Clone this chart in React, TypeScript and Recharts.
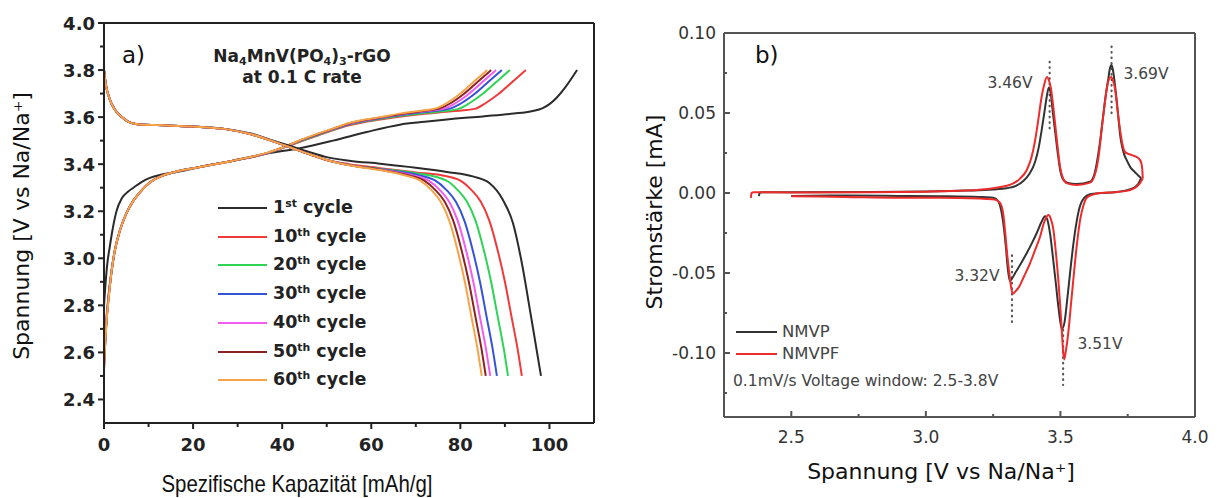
import React from 'react';
import { LineChart, Line, XAxis, YAxis, ReferenceLine } from 'recharts';

type P = [number, number];

// ---------------- Panel a: galvanostatic charge / discharge ----------------
const cycleNumbers = ['1', '10', '20', '30', '40', '50', '60'];
const cycleSuffixes = ['st', 'th', 'th', 'th', 'th', 'th', 'th'];
const cycleColors = ['#2b2b2b', '#f03a3a', '#2ed456', '#3553d6', '#f45cef', '#8c2323', '#f6a447'];

const chargeCycle1: P[] = [[0, 2.8], [0.3, 2.88], [0.7, 2.97], [1.3, 3.05], [2, 3.13], [2.8, 3.2], [4, 3.255], [5.5, 3.285], [6.6, 3.3], [8.5, 3.325], [10.3, 3.342], [13, 3.356], [16.3, 3.367], [21.5, 3.388], [29, 3.415], [36.5, 3.445], [44, 3.468], [51.4, 3.5], [59, 3.537], [66.4, 3.568], [72, 3.58], [77, 3.59], [85, 3.603], [92, 3.615], [96, 3.625], [98.5, 3.638], [100, 3.655], [101.5, 3.68], [103.5, 3.725], [106.2, 3.8]];
const chargeCycle10: P[] = [[0, 2.56], [0.2, 2.63], [0.5, 2.73], [1, 2.84], [1.6, 2.935], [2.4, 3.03], [3.6, 3.12], [5, 3.19], [6.6, 3.245], [8.5, 3.29], [10.3, 3.322], [13, 3.35], [15.5, 3.365], [21.5, 3.388], [29, 3.415], [36.5, 3.445], [40, 3.468], [44, 3.495], [48, 3.522], [51.5, 3.545], [55, 3.565], [62, 3.59], [70, 3.61], [78, 3.625], [83.2, 3.635], [85.7, 3.66], [88.7, 3.7], [91.7, 3.75], [94.7, 3.8]];
const chargeCycle20: P[] = [[0, 2.55], [0.2, 2.625], [0.5, 2.725], [1, 2.835], [1.6, 2.932], [2.4, 3.03], [3.6, 3.12], [5, 3.19], [6.6, 3.245], [8.5, 3.29], [10.3, 3.322], [13, 3.35], [15.5, 3.365], [21.5, 3.388], [29, 3.415], [36.5, 3.445], [40, 3.469], [44, 3.497], [48, 3.524], [51.5, 3.547], [55, 3.568], [62, 3.593], [70, 3.613], [76, 3.625], [79.6, 3.635], [82.1, 3.66], [85.1, 3.7], [88.1, 3.75], [91.1, 3.8]];
const chargeCycle30: P[] = [[0, 2.54], [0.2, 2.62], [0.5, 2.72], [1, 2.83], [1.6, 2.93], [2.4, 3.03], [3.6, 3.12], [5, 3.19], [6.6, 3.245], [8.5, 3.29], [10.3, 3.322], [13, 3.35], [15.5, 3.365], [21.5, 3.388], [29, 3.415], [36.5, 3.446], [40, 3.469], [44, 3.499], [48, 3.526], [51.5, 3.549], [55, 3.57], [62, 3.595], [70, 3.617], [74.5, 3.627], [77.8, 3.637], [80.3, 3.66], [83.3, 3.7], [86.3, 3.75], [89.3, 3.8]];
const chargeCycle40: P[] = [[0, 2.54], [0.2, 2.62], [0.5, 2.72], [1, 2.83], [1.6, 2.93], [2.4, 3.03], [3.6, 3.12], [5, 3.19], [6.6, 3.245], [8.5, 3.29], [10.3, 3.322], [13, 3.35], [15.5, 3.365], [21.5, 3.388], [29, 3.415], [36.5, 3.446], [40, 3.47], [44, 3.5], [48, 3.527], [51.5, 3.55], [55, 3.572], [62, 3.597], [69, 3.618], [73.5, 3.628], [76.5, 3.637], [79, 3.66], [82, 3.7], [85, 3.75], [88, 3.8]];
const chargeCycle50: P[] = [[0, 2.53], [0.2, 2.615], [0.5, 2.715], [1, 2.826], [1.6, 2.93], [2.4, 3.03], [3.6, 3.12], [5, 3.19], [6.6, 3.245], [8.5, 3.29], [10.3, 3.322], [13, 3.35], [15.5, 3.365], [21.5, 3.388], [29, 3.415], [36.5, 3.447], [40, 3.47], [44, 3.501], [48, 3.528], [51.5, 3.551], [55, 3.573], [62, 3.598], [68, 3.617], [72.5, 3.628], [75.4, 3.637], [77.9, 3.66], [80.9, 3.7], [83.9, 3.75], [86.9, 3.8]];
const chargeCycle60: P[] = [[0, 2.52], [0.2, 2.61], [0.5, 2.71], [1, 2.82], [1.6, 2.93], [2.4, 3.03], [3.6, 3.12], [5, 3.19], [6.6, 3.245], [8.5, 3.29], [10.3, 3.322], [13, 3.35], [15.5, 3.365], [21.5, 3.388], [29, 3.415], [36.5, 3.448], [40, 3.47], [44, 3.502], [48, 3.53], [51.5, 3.552], [55, 3.575], [62, 3.6], [67, 3.617], [71.5, 3.628], [74.5, 3.637], [77, 3.66], [80, 3.7], [83, 3.75], [86, 3.8]];

const dischargeCycle1: P[] = [[0, 3.8], [0.4, 3.74], [1.2, 3.68], [2.5, 3.63], [4, 3.6], [5.5, 3.58], [7.5, 3.57], [12, 3.566], [20, 3.56], [27, 3.55], [33, 3.53], [38, 3.5], [42, 3.476], [46, 3.452], [50, 3.43], [55, 3.415], [62, 3.402], [70, 3.385], [77, 3.367], [83, 3.347], [86.5, 3.32], [89.5, 3.25], [91.8, 3.15], [93.8, 2.98], [95.8, 2.76], [98.1, 2.5]];
const dischargeCycle10: P[] = [[0, 3.8], [0.4, 3.74], [1.2, 3.68], [2.5, 3.63], [4, 3.6], [5.5, 3.58], [7.5, 3.57], [12, 3.566], [20, 3.56], [27, 3.55], [33, 3.527], [38, 3.497], [42, 3.47], [46, 3.443], [50, 3.418], [55, 3.4], [62, 3.383], [70, 3.365], [76, 3.352], [80, 3.33], [82.5, 3.29], [84.6, 3.24], [86.5, 3.16], [88.3, 3.04], [90, 2.9], [91.5, 2.75], [92.8, 2.62], [93.8, 2.5]];
const dischargeCycle20: P[] = [[0, 3.8], [0.4, 3.74], [1.2, 3.68], [2.5, 3.63], [4, 3.6], [5.5, 3.58], [7.5, 3.57], [12, 3.566], [20, 3.56], [27, 3.55], [33, 3.527], [38, 3.497], [42, 3.47], [46, 3.443], [50, 3.418], [55, 3.397], [62, 3.38], [70, 3.362], [76.9, 3.33], [79.4, 3.29], [81.5, 3.24], [83.4, 3.16], [85.2, 3.04], [86.9, 2.9], [88.4, 2.75], [89.7, 2.62], [90.7, 2.5]];
const dischargeCycle30: P[] = [[0, 3.8], [0.4, 3.74], [1.2, 3.68], [2.5, 3.63], [4, 3.6], [5.5, 3.58], [7.5, 3.57], [12, 3.566], [20, 3.56], [27, 3.55], [33, 3.527], [38, 3.497], [42, 3.47], [46, 3.443], [50, 3.418], [55, 3.397], [62, 3.378], [69.5, 3.358], [74.4, 3.33], [76.9, 3.29], [79, 3.24], [80.9, 3.16], [82.7, 3.04], [84.4, 2.9], [85.9, 2.75], [87.2, 2.62], [88.2, 2.5]];
const dischargeCycle40: P[] = [[0, 3.8], [0.4, 3.74], [1.2, 3.68], [2.5, 3.63], [4, 3.6], [5.5, 3.58], [7.5, 3.57], [12, 3.566], [20, 3.56], [27, 3.55], [33, 3.527], [38, 3.497], [42, 3.47], [46, 3.443], [50, 3.418], [55, 3.396], [62, 3.377], [68.5, 3.356], [72.9, 3.33], [75.4, 3.29], [77.5, 3.24], [79.4, 3.16], [81.2, 3.04], [82.9, 2.9], [84.4, 2.75], [85.7, 2.62], [86.7, 2.5]];
const dischargeCycle50: P[] = [[0, 3.8], [0.4, 3.74], [1.2, 3.68], [2.5, 3.63], [4, 3.6], [5.5, 3.58], [7.5, 3.57], [12, 3.566], [20, 3.56], [27, 3.55], [33, 3.527], [38, 3.497], [42, 3.47], [46, 3.443], [50, 3.418], [55, 3.396], [62, 3.376], [67.9, 3.355], [71.9, 3.33], [74.4, 3.29], [76.5, 3.24], [78.4, 3.16], [80.2, 3.04], [81.9, 2.9], [83.4, 2.75], [84.7, 2.62], [85.7, 2.5]];
const dischargeCycle60: P[] = [[0, 3.8], [0.4, 3.74], [1.2, 3.68], [2.5, 3.63], [4, 3.6], [5.5, 3.58], [7.5, 3.57], [12, 3.566], [20, 3.56], [27, 3.55], [33, 3.527], [38, 3.497], [42, 3.47], [46, 3.443], [50, 3.418], [55, 3.395], [62, 3.375], [67, 3.355], [71, 3.33], [73.5, 3.29], [75.6, 3.24], [77.5, 3.16], [79.3, 3.04], [81, 2.9], [82.5, 2.75], [83.8, 2.62], [84.8, 2.5]];

const chargeCurves = [chargeCycle1, chargeCycle10, chargeCycle20, chargeCycle30, chargeCycle40, chargeCycle50, chargeCycle60];
const dischargeCurves = [dischargeCycle1, dischargeCycle10, dischargeCycle20, dischargeCycle30, dischargeCycle40, dischargeCycle50, dischargeCycle60];

const capacityMajorTicks = [0, 20, 40, 60, 80, 100];
const capacityMinorTicks = [10, 30, 50, 70, 90];
const voltageMajorTicks = [2.4, 2.6, 2.8, 3.0, 3.2, 3.4, 3.6, 3.8, 4.0];
const voltageMinorTicks = [2.5, 2.7, 2.9, 3.1, 3.3, 3.5, 3.7, 3.9];

// ---------------- Panel b: cyclic voltammetry ----------------
const cvNames = ['NMVP', 'NMVPF'];
const cvColors = ['#333333', '#ee2b2b'];

const nmvpAnodic: P[] = [[2.38, -0.002], [2.382, 0.0], [2.39, 0.0005], [2.5, 0.0004], [2.8, 0.0006], [3.0, 0.0009], [3.15, 0.0015], [3.25, 0.0022], [3.3, 0.003], [3.335, 0.0045], [3.362, 0.0075], [3.385, 0.012], [3.406, 0.0195], [3.42, 0.029], [3.43, 0.039], [3.44, 0.05], [3.449, 0.06], [3.457, 0.066], [3.465, 0.061], [3.472, 0.05], [3.48, 0.039], [3.49, 0.025], [3.499, 0.0144], [3.51, 0.0085], [3.525, 0.0065], [3.56, 0.0056], [3.61, 0.007], [3.625, 0.011], [3.635, 0.0187], [3.648, 0.033], [3.66, 0.05], [3.67, 0.063], [3.678, 0.0715], [3.684, 0.078], [3.69, 0.08], [3.696, 0.076], [3.703, 0.067], [3.709, 0.058], [3.716, 0.046], [3.722, 0.036], [3.728, 0.03], [3.737, 0.024], [3.746, 0.0206], [3.76, 0.016], [3.777, 0.013], [3.79, 0.0108], [3.8, 0.0094]];
const nmvpCathodic: P[] = [[2.5, -0.0018], [2.7, -0.0016], [2.9, -0.0018], [3.05, -0.002], [3.2, -0.0025], [3.25, -0.003], [3.268, -0.005], [3.28, -0.011], [3.29, -0.022], [3.298, -0.035], [3.305, -0.048], [3.312, -0.055], [3.322, -0.053], [3.332, -0.05], [3.35, -0.045], [3.375, -0.0375], [3.395, -0.031], [3.412, -0.025], [3.43, -0.018], [3.443, -0.0145], [3.452, -0.017], [3.462, -0.026], [3.472, -0.04], [3.482, -0.055], [3.493, -0.072], [3.505, -0.085], [3.515, -0.081], [3.525, -0.067], [3.537, -0.048], [3.548, -0.032], [3.56, -0.018], [3.573, -0.008], [3.588, -0.003], [3.61, -0.0008], [3.65, 0.0], [3.7, 0.0005], [3.74, 0.0015], [3.77, 0.003], [3.79, 0.006], [3.8, 0.0094]];
const nmvpfAnodic: P[] = [[2.35, -0.003], [2.352, 0.0], [2.36, 0.0005], [2.5, 0.0003], [2.8, 0.0005], [3.0, 0.0008], [3.15, 0.0015], [3.25, 0.003], [3.3, 0.0045], [3.325, 0.006], [3.35, 0.009], [3.375, 0.0144], [3.392, 0.022], [3.406, 0.033], [3.418, 0.046], [3.43, 0.06], [3.44, 0.068], [3.45, 0.0725], [3.458, 0.07], [3.465, 0.065], [3.472, 0.056], [3.48, 0.0437], [3.49, 0.028], [3.499, 0.016], [3.51, 0.009], [3.525, 0.006], [3.56, 0.005], [3.61, 0.0065], [3.625, 0.01], [3.635, 0.016], [3.645, 0.027], [3.654, 0.041], [3.664, 0.055], [3.672, 0.065], [3.68, 0.071], [3.688, 0.0725], [3.696, 0.07], [3.703, 0.065], [3.712, 0.052], [3.722, 0.039], [3.731, 0.03], [3.74, 0.0256], [3.752, 0.0245], [3.765, 0.0237], [3.79, 0.0218], [3.8, 0.019], [3.804, 0.015], [3.806, 0.009]];
const nmvpfCathodic: P[] = [[2.5, -0.002], [2.7, -0.0025], [2.9, -0.003], [3.05, -0.003], [3.2, -0.0035], [3.255, -0.004], [3.275, -0.006], [3.287, -0.0125], [3.295, -0.025], [3.302, -0.038], [3.31, -0.05], [3.316, -0.058], [3.323, -0.063], [3.333, -0.0615], [3.345, -0.059], [3.365, -0.052], [3.387, -0.044], [3.405, -0.036], [3.424, -0.0275], [3.44, -0.018], [3.455, -0.0138], [3.464, -0.016], [3.474, -0.023], [3.483, -0.037], [3.492, -0.054], [3.499, -0.07], [3.505, -0.086], [3.51, -0.099], [3.514, -0.104], [3.52, -0.099], [3.53, -0.086], [3.54, -0.068], [3.548, -0.054], [3.56, -0.034], [3.573, -0.017], [3.585, -0.008], [3.598, -0.003], [3.62, -0.001], [3.65, 0.0], [3.7, 0.0005], [3.75, 0.0015], [3.775, 0.003], [3.795, 0.006], [3.806, 0.009]];

const cvCurves = [[nmvpAnodic, nmvpCathodic], [nmvpfAnodic, nmvpfCathodic]];

const peakVoltages = [3.46, 3.69, 3.32, 3.51];
const peakLabels = ['3.46V', '3.69V', '3.32V', '3.51V'];
const peakMarkerTop = [0.082, 0.0915, -0.039, -0.0856];
const peakMarkerBottom = [0.039, 0.0488, -0.081, -0.12];

const potentialMajorTicks = [2.5, 3.0, 3.5, 4.0];
const potentialMinorTicks = [2.75, 3.25, 3.75];
const currentMajorTicks = [-0.1, -0.05, 0, 0.05, 0.1];
const currentMinorTicks = [-0.125, -0.075, -0.025, 0.025, 0.075];

const toXY = (a: P[]) => a.map(([x, y]) => ({ x, y }));

type TickOpts = {
  orient: 'bottom' | 'left';
  majors: number[];
  fmt: (v: number) => string;
  dir: number; // 1 outward, -1 inward
  major: number;
  minor: number;
  stroke: string;
  strokeWidth: number;
  gap: number;
  font: string;
  size: number;
  weight: number | string;
  color: string;
};

function makeTick(o: TickOpts) {
  return (props: any) => {
    const { x, y, payload } = props;
    const v = payload.value as number;
    const isMajor = o.majors.some((m) => Math.abs(m - v) < 1e-9);
    const len = isMajor ? o.major : o.minor;
    if (o.orient === 'bottom') {
      return (
        <g>
          <line x1={x} x2={x} y1={y} y2={y + o.dir * len} stroke={o.stroke} strokeWidth={o.strokeWidth} />
          {isMajor && (
            <text x={x} y={y + o.gap} textAnchor="middle" dominantBaseline="central" fontFamily={o.font} fontSize={o.size} fontWeight={o.weight} fill={o.color}>
              {o.fmt(v)}
            </text>
          )}
        </g>
      );
    }
    return (
      <g>
        <line x1={x} x2={x - o.dir * len} y1={y} y2={y} stroke={o.stroke} strokeWidth={o.strokeWidth} />
        {isMajor && (
          <text x={x - o.gap} y={y} textAnchor="end" dominantBaseline="central" fontFamily={o.font} fontSize={o.size} fontWeight={o.weight} fill={o.color}>
            {o.fmt(v)}
          </text>
        )}
      </g>
    );
  };
}

const DV = '"DejaVu Sans", sans-serif';
const LS = '"Liberation Sans", Arial, sans-serif';

const abs = (left: number, top: number, extra: React.CSSProperties = {}): React.CSSProperties => ({
  position: 'absolute',
  left,
  top,
  whiteSpace: 'nowrap',
  lineHeight: 1,
  ...extra,
});

export default function App() {
  const tickA = {
    stroke: '#222',
    strokeWidth: 2,
    font: DV,
    size: 18,
    weight: 'bold',
    color: '#222',
  };
  const tickB = {
    stroke: '#555',
    strokeWidth: 2,
    font: DV,
    size: 17,
    weight: 'normal',
    color: '#333',
  };
  const sortNum = (a: number[]) => [...a].sort((p, q) => p - q);
  return (
    <div style={{ position: 'absolute', left: 0, top: 0, width: 1217, height: 498, background: '#fff', overflow: 'hidden', fontFamily: DV }}>
      {/* Panel a */}
      <div style={{ position: 'absolute', left: 0, top: 0 }}>
        <LineChart width={610} height={498} margin={{ top: 23, right: 16, bottom: 0, left: 0 }}>
          <XAxis
            type="number"
            dataKey="x"
            domain={[0, 110]}
            ticks={sortNum([...capacityMajorTicks, ...capacityMinorTicks])}
            interval={0}
            height={75}
            tickSize={0}
            tickMargin={0}
            tickLine={false}
            axisLine={{ stroke: '#222', strokeWidth: 2 }}
            tick={makeTick({ ...tickA, orient: 'bottom', majors: capacityMajorTicks, fmt: (v) => String(v), dir: 1, major: 6, minor: 4, gap: 21 })}
          />
          <YAxis
            type="number"
            domain={[2.3, 4.0]}
            ticks={sortNum([...voltageMajorTicks, ...voltageMinorTicks])}
            interval={0}
            width={104}
            tickSize={0}
            tickMargin={0}
            tickLine={false}
            axisLine={{ stroke: '#222', strokeWidth: 2 }}
            tick={makeTick({ ...tickA, orient: 'left', majors: voltageMajorTicks, fmt: (v) => v.toFixed(1), dir: 1, major: 6, minor: 4, gap: 9 })}
          />
          <ReferenceLine y={4.0} stroke="#222" strokeWidth={2} />
          <ReferenceLine x={110} stroke="#222" strokeWidth={2} />
          {chargeCurves.map((c, i) => (
            <Line key={'c' + i} data={toXY(c)} dataKey="y" type="monotone" dot={false} activeDot={false} stroke={cycleColors[i]} strokeWidth={2} isAnimationActive={false} />
          ))}
          {dischargeCurves.map((c, i) => (
            <Line key={'d' + i} data={toXY(c)} dataKey="y" type="monotone" dot={false} activeDot={false} stroke={cycleColors[i]} strokeWidth={2} isAnimationActive={false} />
          ))}
        </LineChart>
      </div>

      {/* Panel b */}
      <div style={{ position: 'absolute', left: 620, top: 0 }}>
        <LineChart width={597} height={498} margin={{ top: 33, right: 22, bottom: 0, left: 0 }}>
          <XAxis
            type="number"
            dataKey="x"
            domain={[2.25, 4.0]}
            ticks={sortNum([...potentialMajorTicks, ...potentialMinorTicks])}
            interval={0}
            height={81}
            tickSize={0}
            tickMargin={0}
            tickLine={false}
            axisLine={{ stroke: '#555', strokeWidth: 2 }}
            tick={makeTick({ ...tickB, orient: 'bottom', majors: potentialMajorTicks, fmt: (v) => v.toFixed(1), dir: -1, major: 6, minor: 3, gap: 20 })}
          />
          <YAxis
            type="number"
            domain={[-0.14, 0.1]}
            ticks={sortNum([...currentMajorTicks, ...currentMinorTicks])}
            interval={0}
            width={104}
            tickSize={0}
            tickMargin={0}
            tickLine={false}
            axisLine={{ stroke: '#555', strokeWidth: 2 }}
            tick={makeTick({ ...tickB, orient: 'left', majors: currentMajorTicks, fmt: (v) => v.toFixed(2), dir: -1, major: 6, minor: 3, gap: 8 })}
          />
          <ReferenceLine y={0.1} stroke="#555" strokeWidth={2} />
          <ReferenceLine x={4.0} stroke="#555" strokeWidth={2} />
          {peakVoltages.map((v, i) => (
            <ReferenceLine
              key={'pk' + i}
              segment={[{ x: v, y: peakMarkerTop[i] }, { x: v, y: peakMarkerBottom[i] }]}
              stroke="#555"
              strokeWidth={2.2}
              strokeDasharray="0.5 5"
              strokeLinecap="round"
            />
          ))}
          {cvCurves.map((branches, i) =>
            branches.map((b, j) => (
              <Line key={'cv' + i + '-' + j} data={toXY(b)} dataKey="y" type="monotone" dot={false} activeDot={false} stroke={cvColors[i]} strokeWidth={2} isAnimationActive={false} />
            ))
          )}
        </LineChart>
      </div>

      {/* Panel a texts */}
      <div style={abs(122, 55, { transform: 'translateY(-50%)', fontSize: 23, color: '#111' })}>a)</div>
      <div style={abs(302, 56, { transform: 'translate(-50%,-50%)', fontSize: 17, fontWeight: 'bold', color: '#222' })}>
        Na<sub style={{ fontSize: '0.65em', verticalAlign: 'baseline', position: 'relative', top: '0.3em' }}>4</sub>MnV(PO
        <sub style={{ fontSize: '0.65em', verticalAlign: 'baseline', position: 'relative', top: '0.3em' }}>4</sub>)
        <sub style={{ fontSize: '0.65em', verticalAlign: 'baseline', position: 'relative', top: '0.3em' }}>3</sub>-rGO
      </div>
      <div style={abs(302, 77, { transform: 'translate(-50%,-50%)', fontSize: 17, fontWeight: 'bold', color: '#222' })}>at 0.1 C rate</div>
      {cycleNumbers.map((n, i) => (
        <React.Fragment key={'lg' + i}>
          <div style={abs(218, 208 + i * 28.7, { width: 49, height: 0, borderTop: `2.5px solid ${cycleColors[i]}`, transform: 'translateY(-1px)' })} />
          <div style={abs(273, 208 + i * 28.7, { transform: 'translateY(-50%)', fontSize: 17.5, fontWeight: 'bold', color: '#222' })}>
            {n}
            <span style={{ fontSize: '0.62em', position: 'relative', top: '-0.55em' }}>{cycleSuffixes[i]}</span> cycle
          </div>
        </React.Fragment>
      ))}
      <div style={abs(22, 226, { transform: 'translate(-50%,-50%) rotate(-90deg)', fontSize: 22, color: '#111' })}>Spannung [V vs Na/Na⁺]</div>
      <div style={abs(297, 484, { transform: 'translate(-50%,-50%) scaleX(0.85)', fontSize: 24, color: '#111', fontFamily: LS })}>Spezifische Kapazität [mAh/g]</div>

      {/* Panel b texts */}
      <div style={abs(755, 55, { transform: 'translateY(-50%)', fontSize: 23, color: '#111' })}>b)</div>
      <div style={abs(1010, 84, { transform: 'translate(-50%,-50%)', fontSize: 15.5, color: '#444' })}>{peakLabels[0]}</div>
      <div style={abs(1146, 75, { transform: 'translate(-50%,-50%)', fontSize: 15.5, color: '#444' })}>{peakLabels[1]}</div>
      <div style={abs(977, 277, { transform: 'translate(-50%,-50%)', fontSize: 15.5, color: '#444' })}>{peakLabels[2]}</div>
      <div style={abs(1100, 345, { transform: 'translate(-50%,-50%)', fontSize: 15.5, color: '#444' })}>{peakLabels[3]}</div>
      {cvNames.map((n, i) => (
        <React.Fragment key={'cvl' + i}>
          <div style={abs(736, 332 + i * 22, { width: 41, height: 0, borderTop: `2px solid ${cvColors[i]}`, transform: 'translateY(-1px)' })} />
          <div style={abs(782, 332 + i * 22, { transform: 'translateY(-50%)', fontSize: 16.5, color: '#444' })}>{n}</div>
        </React.Fragment>
      ))}
      <div style={abs(733, 382, { transform: 'translateY(-50%)', fontSize: 15.5, color: '#444' })}>0.1mV/s Voltage window: 2.5-3.8V</div>
      <div style={abs(655, 212, { transform: 'translate(-50%,-50%) rotate(-90deg)', fontSize: 22, color: '#111' })}>Stromstärke [mA]</div>
      <div style={abs(941, 472, { transform: 'translate(-50%,-50%)', fontSize: 22, color: '#111' })}>Spannung [V vs Na/Na⁺]</div>
    </div>
  );
}
